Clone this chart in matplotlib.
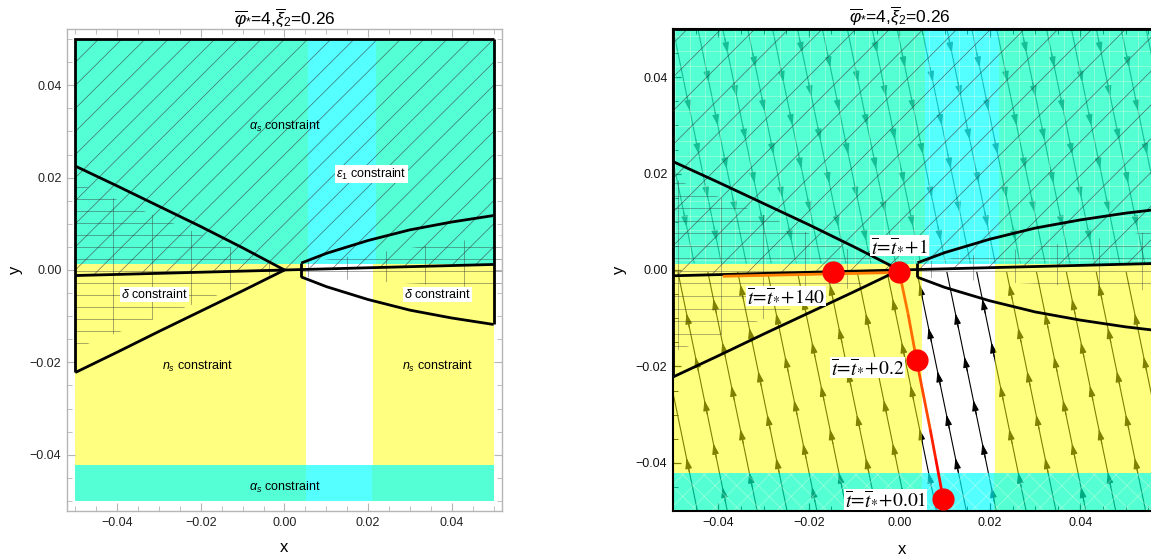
import numpy as np
import matplotlib
matplotlib.use("Agg")
import matplotlib.pyplot as plt
from matplotlib.patches import Polygon
from matplotlib.collections import LineCollection
from matplotlib.ticker import MultipleLocator, FixedLocator
from matplotlib.transforms import blended_transform_factory

plt.rcParams['font.family'] = ['Liberation Sans', 'DejaVu Sans']
plt.rcParams['mathtext.fontset'] = 'custom'
plt.rcParams['mathtext.rm'] = 'Liberation Sans'
plt.rcParams['mathtext.it'] = 'Liberation Sans:italic'
plt.rcParams['mathtext.bf'] = 'Liberation Sans:bold'

# ---------------- data ----------------
title_text = r'$\overline{\varphi}_{*}$=4,$\overline{\xi}_{2}$=0.26'
x_ticks = [-0.04, -0.02, 0.00, 0.02, 0.04]
y_ticks = [-0.04, -0.02, 0.00, 0.02, 0.04]
tick_labels = ['\u22120.04', '\u22120.02', '0.00', '0.02', '0.04']

x_lo, x_hi = -0.05, 0.05
y_lo, y_hi = -0.05, 0.05
x_hi_right_panel = 0.06          # the right panel continues past the crop

alpha_s_top_edge = 0.0012         # lower edge of the upper alpha_s region
alpha_s_bottom_edge = -0.0422     # upper edge of the lower alpha_s band
eps_band_upper = [0.0057, 0.0219]
eps_band_middle = [0.0051, 0.0212]
eps_band_lower = [0.0051, 0.0209]

upper_left_x = [-0.05, -0.04, -0.03, -0.02, -0.01, 0.0]
upper_left_y = [0.0225, 0.0182, 0.0138, 0.0094, 0.0048, 0.0]
lower_left_x = [-0.05, -0.04, -0.03, -0.02, -0.01, 0.0]
lower_left_y = [-0.0222, -0.0178, -0.0133, -0.0089, -0.0045, 0.0]
center_x = [-0.05, 0.05, 0.06]
center_y = [-0.0012, 0.0012, 0.00144]
upper_right_x = [0.004, 0.01, 0.02, 0.03, 0.04, 0.05, 0.06]
upper_right_y = [0.0015, 0.0036, 0.0064, 0.0087, 0.0104, 0.0118, 0.0129]
lower_right_x = [0.004, 0.01, 0.02, 0.03, 0.04, 0.05, 0.06]
lower_right_y = [-0.0015, -0.0036, -0.0064, -0.0087, -0.0104, -0.0118, -0.0129]
gap_x = 0.004

grid_left_x = [-0.05, 0.0, -0.05]
grid_left_y = [0.019, 0.0, -0.017]
grid_right_x = [0.004, 0.06, 0.06, 0.004]
grid_right_y = [0.0015, 0.0085, -0.0045, -0.0015]

region_labels = [r'$\alpha_s$ constraint', r'$\epsilon_1$ constraint',
                 r'$\delta$ constraint', r'$\delta$ constraint',
                 r'$n_s$ constraint', r'$n_s$ constraint', r'$\alpha_s$ constraint']
region_label_x = [0.0, 0.0208, -0.0311, 0.0366, -0.0208, 0.0366, 0.0]
region_label_y = [0.0311, 0.0208, -0.0052, -0.0052, -0.0209, -0.0209, -0.0470]
region_label_box = [False, True, True, True, False, False, False]

# stream lines (right panel): nearly straight, dx/dy slope
stream_slope = -0.22
lower_stream_x0 = [-0.0578, -0.0512, -0.0446, -0.0380, -0.0314, -0.0248, -0.0182,
                   -0.0116, -0.0050, 0.0016, 0.0082, 0.0148, 0.0214, 0.0280,
                   0.0346, 0.0412, 0.0478, 0.0544, 0.0610, 0.0676]
upper_stream_x0 = [-0.0560, -0.0500, -0.0445, -0.0390, -0.0335, -0.0280, -0.0225,
                   -0.0170, -0.0115, -0.0060, -0.0005, 0.0050, 0.0105, 0.0160,
                   0.0215, 0.0270, 0.0325, 0.0380, 0.0435, 0.0490, 0.0545]
lower_arrow_levels = [-0.045, -0.036, -0.027, -0.018, -0.009]
upper_arrow_levels = [0.045, 0.036, 0.027, 0.018, 0.009]
arrow_stagger = [0.0, 0.003, 0.006]

traj_x = [0.0097, 0.0080, 0.0068, 0.0038, 0.0019, 0.0, -0.0147, -0.0390]
traj_y = [-0.0476, -0.0390, -0.0330, -0.0187, -0.0090, -0.0005, -0.0008, -0.0013]
traj_red_fraction = [1.0, 0.9, 0.6, 0.25, 0.1, 0.05, 0.0, 0.0]

mark_x = [0.0097, 0.0038, 0.0, -0.0147]
mark_y = [-0.0476, -0.0187, -0.0005, -0.0004]
mark_text = [r'$\overline{t}\!=\!\overline{t}_{*}\!+\!0.01$',
             r'$\overline{t}\!=\!\overline{t}_{*}\!+\!0.2$',
             r'$\overline{t}\!=\!\overline{t}_{*}\!+\!1$',
             r'$\overline{t}\!=\!\overline{t}_{*}\!+\!140$']
mark_text_x = [-0.0030, -0.0070, 0.0, -0.0251]
mark_text_y = [-0.0476, -0.0202, 0.0050, -0.0054]

# ---------------- styles ----------------
TURQ = '#55FFD5'
CYAN = '#55FFFF'
YELL = '#FFFF80'
TURQ_A = ((0.0, 1.0, 0.753), 0.67)
CYAN_A = ((0.0, 1.0, 1.0), 0.67)
YELL_A = ((1.0, 1.0, 0.0), 0.5)

W, H = 1151, 558
fig = plt.figure(figsize=(W / 100, H / 100), dpi=100)


def axes_px(l, t, r, b):
    return fig.add_axes([l / W, 1 - b / H, (r - l) / W, (b - t) / H])


ax1 = axes_px(67, 29, 502, 511)
ax2 = axes_px(673, 29, 1171, 511)
ax1.set_xlim(-0.052, 0.052)
ax1.set_ylim(-0.0522, 0.0522)
ax2.set_xlim(-0.05, 0.06)
ax2.set_ylim(-0.05, 0.05)


def regions(ax, xr, turq, cyan, yell):
    def box(x0, x1, y0, y1, spec):
        if isinstance(spec, tuple):
            ax.fill_between([x0, x1], y0, y1, color=spec[0], alpha=spec[1], lw=0, zorder=2)
        else:
            ax.fill_between([x0, x1], y0, y1, color=spec, lw=0, zorder=0.5)
    box(x_lo, eps_band_upper[0], alpha_s_top_edge, y_hi, turq)
    box(eps_band_upper[0], eps_band_upper[1], alpha_s_top_edge, y_hi, cyan)
    box(eps_band_upper[1], xr, alpha_s_top_edge, y_hi, turq)
    box(x_lo, eps_band_middle[0], alpha_s_bottom_edge, alpha_s_top_edge, yell)
    box(eps_band_middle[1], xr, alpha_s_bottom_edge, alpha_s_top_edge, yell)
    box(x_lo, eps_band_lower[0], y_lo, alpha_s_bottom_edge, turq)
    box(eps_band_lower[0], eps_band_lower[1], y_lo, alpha_s_bottom_edge, cyan)
    box(eps_band_lower[1], xr, y_lo, alpha_s_bottom_edge, turq)


def clipped_lines(ax, poly_x, poly_y, segs, color, lw, alpha, zorder):
    patch = Polygon(np.column_stack([poly_x, poly_y]), closed=True,
                    facecolor='none', edgecolor='none', transform=ax.transData)
    ax.add_patch(patch)
    lc = LineCollection(segs, colors=color, linewidths=lw, alpha=alpha, zorder=zorder)
    ax.add_collection(lc)
    lc.set_clip_path(patch)
    lc.set_clip_box(ax.bbox)


def diag_segs(slope, spacing):
    segs = []
    for c in np.arange(-0.2, 0.2, spacing):
        segs.append([(-0.1, c - 0.1 * slope), (0.1, c + 0.1 * slope)])
    return segs


def grid_segs(dx, dy, x0):
    segs = []
    for x in np.arange(x0 - 20 * dx, 0.08, dx):
        segs.append([(x, -0.06), (x, 0.06)])
    for y in np.arange(-0.06, 0.06, dy):
        segs.append([(-0.06, y), (0.08, y)])
    return segs


def outlines(ax, xr):
    kw = dict(color='black', lw=2.0, zorder=5, solid_capstyle='butt', solid_joinstyle='miter')
    ux = [x for x in upper_right_x if x <= xr]
    uy = upper_right_y[:len(ux)]
    lx = [x for x in lower_right_x if x <= xr]
    ly = lower_right_y[:len(lx)]
    cx = [x for x in center_x if x <= xr]
    cy = center_y[:len(cx)]
    ax.plot(upper_left_x, upper_left_y, **kw)
    ax.plot(lower_left_x, lower_left_y, **kw)
    ax.plot(cx, cy, **kw)
    ax.plot(ux, uy, **kw)
    ax.plot(lx, ly, **kw)
    ax.plot([gap_x, gap_x], [lower_right_y[0], upper_right_y[0]], **kw)
    ax.plot([x_lo, x_lo, xr], [lower_left_y[0], y_hi, y_hi], **kw)
    if xr <= x_hi:
        ax.plot([x_hi, x_hi], [y_hi, lower_right_y[len(lx) - 1]], **kw)


# ---------------- left panel ----------------
regions(ax1, x_hi, TURQ, CYAN, YELL)
diag_poly_x = [x_lo, x_hi, x_hi, x_lo]
diag_poly_y = [center_y[0], center_y[1], y_hi, y_hi]
clipped_lines(ax1, diag_poly_x, diag_poly_y, diag_segs(0.90, 0.0050), '#333333', 0.5, 0.7, 1)
clipped_lines(ax1, grid_left_x, grid_left_y, grid_segs(0.0093, 0.0026, -0.0409), '#333333', 0.5, 0.6, 1)
clipped_lines(ax1, grid_right_x, grid_right_y, grid_segs(0.0093, 0.0026, -0.0409), '#333333', 0.5, 0.6, 1)
outlines(ax1, x_hi)

for s, x, y, b in zip(region_labels, region_label_x, region_label_y, region_label_box):
    kw = dict(boxstyle='square,pad=0.08', fc='white', ec='none') if b else None
    ax1.text(x, y, s, ha='center', va='center', fontsize=9, zorder=6, bbox=kw)

ax1.set_title(title_text, fontsize=12.5, pad=2)
for sp in ax1.spines.values():
    sp.set_color('#b5b5b5')
    sp.set_linewidth(1.0)
ax1.xaxis.set_major_locator(FixedLocator(x_ticks))
ax1.yaxis.set_major_locator(FixedLocator(y_ticks))
ax1.set_xticklabels(tick_labels)
ax1.set_yticklabels(tick_labels)
ax1.xaxis.set_minor_locator(MultipleLocator(0.005))
ax1.yaxis.set_minor_locator(MultipleLocator(0.005))
ax1.tick_params(which='both', direction='in', top=True, right=True, color='#b5b5b5',
                labelsize=9, labelcolor='#222222')
ax1.tick_params(which='major', length=6, width=0.8, pad=4)
ax1.tick_params(which='minor', length=3.5, width=0.6)
ax1.set_xlabel('x', fontsize=12, va='center')
ax1.set_ylabel('y', fontsize=12, va='center')
ax1.xaxis.set_label_coords(0.5, -(548 - 511) / 482)
ax1.yaxis.set_label_coords(-(67 - 15) / 435, 0.5)

# ---------------- right panel ----------------
def stream(ax, x0, y0, y1, levels, k, color):
    ys = np.array([y0, y1])
    xs = x0 + stream_slope * (ys - y0)
    ax.plot(xs, ys, color=color, lw=0.8, zorder=1)
    d = np.sign(y1 - y0)
    st = arrow_stagger[k % len(arrow_stagger)]
    for lv in levels:
        ya = lv + d * st
        if min(y0, y1) + 0.002 < ya < max(y0, y1) - 0.001:
            tip = (x0 + stream_slope * (ya - y0), ya)
            yt = ya - d * 0.003
            tail = (x0 + stream_slope * (yt - y0), yt)
            if -0.048 < tip[0] < 0.06 and -0.048 < tail[0]:
                ax.annotate('', xy=tip, xytext=tail, zorder=1,
                            arrowprops=dict(arrowstyle='-|>,head_length=0.7,head_width=0.22',
                                            color=color, lw=0.8, shrinkA=0, shrinkB=0,
                                            mutation_scale=9))


for k, x0 in enumerate(lower_stream_x0):
    stream(ax2, x0, y_lo, -0.0005, lower_arrow_levels, k, 'black')
for k, x0 in enumerate(upper_stream_x0):
    stream(ax2, x0, y_hi, 0.0015, upper_arrow_levels, k, '#404040')

regions(ax2, x_hi_right_panel, TURQ_A, CYAN_A, YELL_A)

# faint light mesh on the alpha_s regions
clipped_lines(ax2, [x_lo, 0.07, 0.07, x_lo], [alpha_s_top_edge, alpha_s_top_edge, y_hi, y_hi],
              grid_segs(0.0033, 0.0031, 0.0), '#FFFFE0', 0.6, 0.35, 2.5)
clipped_lines(ax2, [x_lo, 0.07, 0.07, x_lo], [y_lo, y_lo, alpha_s_bottom_edge, alpha_s_bottom_edge],
              diag_segs(0.94, 0.0045) + diag_segs(-0.94, 0.0045), '#FFFFE0', 0.6, 0.35, 2.5)

diag2_x = [x_lo, 0.07, 0.07, x_lo]
diag2_y = [center_y[0], center_y[2], y_hi, y_hi]
clipped_lines(ax2, diag2_x, diag2_y, diag_segs(0.94, 0.0070), '#333333', 0.5, 0.7, 3)
clipped_lines(ax2, grid_left_x, grid_left_y, grid_segs(0.0093, 0.0026, -0.0395), '#333333', 0.5, 0.55, 3)
clipped_lines(ax2, grid_right_x, grid_right_y, grid_segs(0.0093, 0.0026, -0.0395), '#333333', 0.5, 0.55, 3)
outlines(ax2, x_hi_right_panel)

# trajectory with colour running from red to orange
pts = np.column_stack([traj_x, traj_y])
segs = [[pts[i], pts[i + 1]] for i in range(len(pts) - 1)]
cols = [(1.0, 0.5 * (1 - 0.5 * (traj_red_fraction[i] + traj_red_fraction[i + 1])), 0.0)
        for i in range(len(pts) - 1)]
ax2.add_collection(LineCollection(segs, colors=cols, linewidths=2.0, zorder=6))
ax2.plot(mark_x, mark_y, 'o', color='red', ms=16, mec='none', zorder=7)
for s, x, y in zip(mark_text, mark_text_x, mark_text_y):
    ax2.text(x, y, s, ha='center', va='center', fontsize=14, math_fontfamily='stix', zorder=8,
             bbox=dict(boxstyle='square,pad=0.05', fc='white', ec='none'))

tr = blended_transform_factory(ax2.transData, ax2.transAxes)
ax2.text(0.0, 1.0 + 2 / 482, title_text, transform=tr, ha='center', va='bottom', fontsize=12.5)
for sp in ax2.spines.values():
    sp.set_color('black')
    sp.set_linewidth(1.5)
ax2.xaxis.set_major_locator(FixedLocator(x_ticks))
ax2.yaxis.set_major_locator(FixedLocator(y_ticks))
ax2.set_xticklabels(tick_labels)
ax2.set_yticklabels(tick_labels)
ax2.xaxis.set_minor_locator(MultipleLocator(0.005))
ax2.yaxis.set_minor_locator(MultipleLocator(0.005))
ax2.tick_params(which='both', direction='in', top=True, right=False, color='black',
                labelsize=9, labelcolor='#111111')
ax2.tick_params(which='major', length=6, width=0.9, pad=4)
ax2.tick_params(which='minor', length=3.5, width=0.7)
ax2.set_xlabel('x', fontsize=12, va='center')
ax2.set_ylabel('y', fontsize=12, va='center')
ax2.xaxis.set_label_coords(229 / 498, -(550 - 511) / 482)
ax2.yaxis.set_label_coords(-(673 - 619) / 498, 0.5)

fig.savefig('out.png', dpi=100)
